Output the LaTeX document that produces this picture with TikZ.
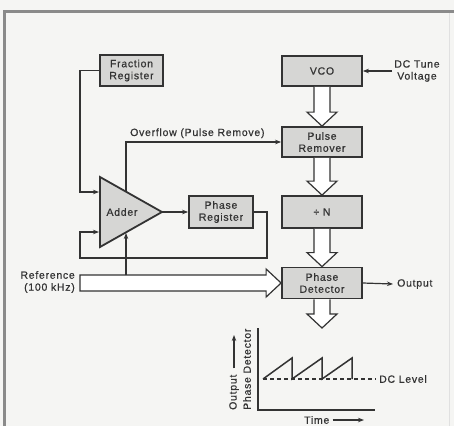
\documentclass[tikz,border=0pt]{standalone}
\usepackage{fontspec}
\setmainfont{Liberation Sans}[LetterSpace=7,FakeBold=0.6]
\usetikzlibrary{arrows.meta,calc}
\definecolor{bg}{HTML}{F5F5F3}
\definecolor{boxfill}{HTML}{D6D6D4}
\definecolor{ink}{HTML}{333333}
\definecolor{framecol}{HTML}{8A8A8A}
\newcommand\hollowdn[2]{\draw[hollow] ($(#1)+(-8,0)$) -- ($(#2)+(-8,-14)$) -- ($(#2)+(-15,-14)$) -- (#2) -- ($(#2)+(15,-14)$) -- ($(#2)+(8,-14)$) -- ($(#1)+(8,0)$);}
\begin{document}
\begin{tikzpicture}[x=1pt,y=-1pt,
  font=\fontsize{10.5}{12}\selectfont,
  box/.style={draw=ink, line width=1.8pt, fill=boxfill, minimum width=80pt, minimum height=30pt, inner sep=0pt, align=center, text=ink},
  wire/.style={draw=ink, line width=1.2pt},
  arr/.style={wire, -{Stealth[length=6pt,width=4.5pt]}},
  hollow/.style={draw=ink, line width=1.2pt, fill=white, line join=miter},
  lbl/.style={text=ink, inner sep=0pt, align=center}]
\fill[bg] (0,0) rectangle (454,426);
\useasboundingbox (0,0) rectangle (454,426);
\draw[framecol, line width=3pt] (4.5,426) -- (4.5,11) -- (454,11);
\draw[black!12, line width=1pt] (449,13) -- (449,426);

% boxes
\node[box, minimum width=63pt, minimum height=31pt] (frac) at (131.5,70.5) {Fraction\\Register};
\node[box] (vco) at (322,71) {VCO};
\node[box] (pulse) at (322,142) {Pulse\\Remover};
\node[box, minimum height=32pt] (divn) at (322,212) {÷ N};
\node[box, minimum height=31pt] (pd) at (322,283) {Phase\\Detector};
\node[box, minimum width=64pt, minimum height=32pt] (preg) at (221,212) {Phase\\Register};

% adder
\coordinate (tA) at (100,177);
\coordinate (tB) at (100,247);
\coordinate (tC) at (162,212);
\draw[draw=ink, line width=1.8pt, fill=boxfill, line join=miter] (tA) -- (tC) -- (tB) -- cycle;
\node[lbl] (adder) at (122,212) {Adder};
\coordinate (in1) at (99,192);
\coordinate (in2) at (99,232);
\coordinate (ovf) at (126,191);
\coordinate (refin) at (126,233);

% labels
\node[lbl] (dctune) at (417,71) {DC Tune\\Voltage};
\node[lbl, anchor=west] (out) at (397,284) {Output};
\node[lbl, anchor=base west] (ovflbl) at (130,136) {Overflow (Pulse Remove)};
\node[lbl, align=right, anchor=east] (reflbl) at (75,282) {Reference\\(100 kHz)};

% wires
\draw[arr] ([xshift=-2pt]dctune.west) -- (vco.east);
\draw[arr] (pd.east) -- ([xshift=-4pt]out.west);
\draw[arr] (tC) -- (preg.west);
\draw[arr] (frac.west) -| (80,192) -- (in1);
\draw[arr] (preg.east) -- (267,212) |- (80,258) |- (in2);
\draw[arr] (ovf) |- (pulse.west);

% hollow arrows
\hollowdn{vco.south}{pulse.north}
\hollowdn{pulse.south}{divn.north}
\hollowdn{divn.south}{pd.north}
\coordinate (gtip) at (322,328);
\hollowdn{pd.south}{gtip}
\coordinate (refL) at (80,283);
\draw[hollow] ($(refL)+(0,-8)$) -- ($(pd.west)+(-15,-8)$) -- ($(pd.west)+(-15,-14)$) -- (pd.west) -- ($(pd.west)+(-15,14)$) -- ($(pd.west)+(-15,8)$) -- ($(refL)+(0,8)$) -- cycle;
\coordinate (reftap) at (126,275);
\draw[arr] (reftap) -- (refin);

% graph
\coordinate (gO) at (258,410);
\draw[ink, line width=1.5pt] (258,328) -- (gO) -- (375,410);
\draw[ink, line width=1.2pt, dash pattern=on 4pt off 3pt] (263,379) -- (376,379);
\draw[ink, line width=1.5pt, line join=miter] (263,379) -- (292,358) -- (292,379) -- (322,358) -- (322,379) -- (352,358) -- (352,379);
\node[lbl, anchor=west] (dclvl) at (379,379) {DC Level};
\node[lbl, anchor=west] (time) at (304,420) {Time};
\draw[arr] ([xshift=3pt]time.east) -- (364,420);
\node[lbl, rotate=90, anchor=west] (yl1) at (234,410) {Output};
\draw[arr] ($(yl1.east)+(0,-6)$) -- (234,335);
\node[lbl, rotate=90, anchor=west] (yl2) at (247,410) {Phase Detector};
\end{tikzpicture}
\end{document}
